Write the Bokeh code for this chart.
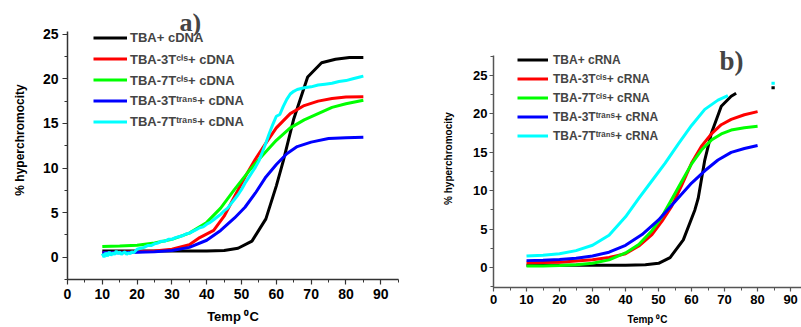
import math
from bokeh.plotting import figure
from bokeh.models import Legend, LegendItem, Label, Range1d, SingleIntervalTicker
from bokeh.layouts import row
from bokeh.embed import file_html
from bokeh.resources import INLINE

# ---------------- Panel a) : cDNA ----------------
a_black_T = [10, 15, 20, 25, 30, 35, 40, 45, 49, 53, 57, 60, 62, 65, 69, 73, 77, 81, 85]
a_black_v = [0.7, 0.7, 0.7, 0.7, 0.7, 0.7, 0.7, 0.75, 1.0, 1.8, 4.3, 8.0, 10.8, 15.5, 20.2, 21.8, 22.2, 22.4, 22.4]

a_red_T = [10, 15, 20, 25, 30, 35, 38, 42, 45, 48, 51, 54, 57, 60, 64, 68, 72, 76, 80, 85]
a_red_v = [0.5, 0.55, 0.6, 0.7, 0.9, 1.4, 2.2, 3.0, 4.6, 6.8, 9.0, 11.0, 12.8, 14.5, 16.1, 17.0, 17.5, 17.8, 17.95, 18.0]

a_green_T = [10, 15, 20, 25, 30, 35, 40, 44, 48, 52, 56, 60, 64, 68, 72, 76, 80, 85]
a_green_v = [1.2, 1.25, 1.35, 1.6, 2.0, 2.7, 3.9, 5.5, 7.6, 9.6, 11.4, 13.1, 14.5, 15.4, 16.1, 16.8, 17.2, 17.6]

a_blue_T = [10, 15, 20, 25, 30, 35, 40, 44, 48, 51, 54, 57, 60, 63, 66, 70, 75, 80, 85]
a_blue_v = [0.5, 0.5, 0.55, 0.6, 0.75, 1.1, 1.9, 3.0, 4.4, 5.6, 7.2, 9.0, 10.4, 11.6, 12.4, 12.9, 13.3, 13.4, 13.45]

a_cyan_T = [10, 10.5, 11, 11.5, 12, 12.5, 13, 13.5, 14, 14.5, 15, 15.5, 16, 16.5, 17, 17.5, 18, 18.5, 19,
            20, 21, 22, 23, 24, 25, 26, 27, 28, 29, 30, 31, 32, 33, 34, 35, 36, 37, 38, 39, 40,
            41, 42, 43, 44, 45, 46, 47, 48, 49, 50, 51, 52, 53, 54, 55, 56, 57, 58, 59, 60,
            61, 62, 63, 64, 65, 66, 68, 70, 72, 74, 76, 78, 80, 82, 84, 85]
a_cyan_v = [0.4, 0.0, 0.5, 0.1, 0.6, 0.2, 0.5, 0.3, 0.7, 0.4, 0.6, 0.3, 0.5, 0.6, 0.3, 0.5, 0.4, 0.6, 0.5,
            0.9, 1.0, 1.1, 1.3, 1.3, 1.5, 1.6, 1.8, 1.8, 2.0, 2.0, 2.2, 2.3, 2.4, 2.6, 2.7, 2.9, 3.1, 3.3, 3.4, 3.7,
            3.9, 4.2, 4.5, 4.8, 5.2, 5.5, 6.0, 6.5, 7.0, 7.6, 8.3, 8.9, 9.5, 10.1, 10.8, 11.8, 12.8, 13.9, 14.9, 15.8,
            16.0, 16.9, 17.7, 18.3, 18.6, 18.8, 19.0, 19.1, 19.3, 19.4, 19.5, 19.7, 19.8, 20.0, 20.2, 20.3]

a_labels = ["TBA+ cDNA", "TBA-3T\u1d9c\u2071\u02e2+ cDNA", "TBA-7T\u1d9c\u2071\u02e2+ cDNA",
            "TBA-3T\u1d57\u02b3\u1d43\u207f\u02e2+ cDNA", "TBA-7T\u1d57\u02b3\u1d43\u207f\u02e2+ cDNA"]

# ---------------- Panel b) : cRNA ----------------
b_black_T = [10, 20, 30, 40, 46, 50, 53.5, 57.5, 61, 62, 64, 66, 69, 72, 73.5]
b_black_v = [0.3, 0.3, 0.3, 0.3, 0.35, 0.55, 1.3, 3.6, 7.5, 9.0, 14.0, 17.5, 21.0, 22.3, 22.7]
b_black_tail_T = [84.2, 85.2]
b_black_tail_v = [23.4, 23.4]

b_red_T = [10, 15, 20, 25, 30, 35, 40, 44, 48, 51, 54, 57, 60, 63, 66, 69, 72, 76, 80]
b_red_v = [0.6, 0.65, 0.7, 0.85, 1.0, 1.3, 1.8, 2.8, 4.3, 6.0, 8.0, 10.7, 13.6, 15.8, 17.4, 18.6, 19.3, 19.9, 20.3]

b_green_T = [10, 15, 20, 25, 30, 35, 40, 44, 48, 51, 54, 57, 60, 63, 66, 69, 72, 76, 80]
b_green_v = [0.2, 0.2, 0.25, 0.35, 0.55, 1.0, 1.9, 3.0, 4.8, 6.6, 8.9, 11.2, 13.5, 15.3, 16.6, 17.4, 17.9, 18.2, 18.4]

b_blue_T = [10, 15, 20, 25, 30, 35, 40, 45, 50, 55, 60, 64, 68, 72, 76, 80]
b_blue_v = [0.9, 0.95, 1.05, 1.2, 1.5, 2.0, 2.9, 4.3, 6.2, 8.6, 11.0, 12.6, 14.0, 15.0, 15.5, 15.9]

b_cyan_T = [10, 15, 20, 25, 30, 35, 40, 44, 48, 52, 56, 60, 64, 68, 71]
b_cyan_v = [1.5, 1.6, 1.8, 2.2, 2.9, 4.2, 6.6, 9.0, 11.3, 13.6, 16.1, 18.5, 20.6, 21.8, 22.4]
b_cyan_tail_T = [84.2, 85.2]
b_cyan_tail_v = [24.0, 24.0]

b_labels = ["TBA+ cRNA", "TBA-3T\u1d9c\u2071\u02e2+ cRNA", "TBA-7T\u1d9c\u2071\u02e2+ cRNA",
            "TBA-3T\u1d57\u02b3\u1d43\u207f\u02e2+ cRNA", "TBA-7T\u1d57\u02b3\u1d43\u207f\u02e2+ cRNA"]

colors = ["#000000", "#ff0000", "#00ff00", "#0000ff", "#00ffff"]

x_ticks_interval = 10
y_ticks_interval = 5
y_axis_title = "% hyperchromocity"
x_axis_title = "Temp \u2070C"

FONT = "Liberation Sans"


def style_axes(p, tick_size, tick_out, y_standoff, x_standoff, axis_color, ybounds):
    p.xaxis.ticker = SingleIntervalTicker(interval=x_ticks_interval, num_minor_ticks=2)
    p.yaxis.ticker = SingleIntervalTicker(interval=y_ticks_interval, num_minor_ticks=2)
    p.yaxis.bounds = ybounds
    for ax in (p.xaxis, p.yaxis):
        ax.axis_line_color = axis_color
        ax.axis_line_width = 1.5
        ax.major_tick_line_color = axis_color
        ax.minor_tick_line_color = axis_color
        ax.major_tick_line_width = 1.2
        ax.major_tick_out = tick_out
        ax.major_tick_in = 0
        ax.minor_tick_out = 3
        ax.minor_tick_in = 0
        ax.major_label_text_font = FONT
        ax.major_label_text_font_style = "bold"
        ax.major_label_text_font_size = tick_size
        ax.major_label_text_color = "#000000"
        ax.axis_label_text_font = FONT
        ax.axis_label_text_font_style = "bold"
        ax.axis_label_text_color = "#000000"
    p.yaxis.major_label_standoff = y_standoff
    p.xaxis.major_label_standoff = x_standoff
    p.xgrid.visible = False
    p.ygrid.visible = False
    p.outline_line_color = None
    p.frame_align = False


def add_lines(p, series, labels, lw):
    items = []
    for (T, v), c, lab in zip(series, colors, labels):
        r = p.line(T, v, line_color=c, line_width=lw)
        items.append(LegendItem(label=lab, renderers=[r]))
    return items


# ---- figure a ----
pa = figure(width=400, height=327, title=None, output_backend="svg", toolbar_location=None,
            x_range=Range1d(0, 95.1), y_range=Range1d(-2.5, 28.78),
            min_border_left=67, min_border_right=2, min_border_top=0, min_border_bottom=48)
style_axes(pa, "14px", 5, 4, 4, "#333333", (-2.5, 25.3))
pa.xaxis.axis_label = x_axis_title
pa.xaxis.axis_label_text_font_size = "13px"
pa.xaxis.axis_label_standoff = 7
pa.yaxis.axis_label = y_axis_title
pa.yaxis.axis_label_text_font_size = "12px"
pa.yaxis.axis_label_standoff = 13
items_a = add_lines(pa, [(a_black_T, a_black_v), (a_red_T, a_red_v), (a_green_T, a_green_v),
                         (a_blue_T, a_blue_v), (a_cyan_T, a_cyan_v)], a_labels, 3)
leg_a = Legend(items=items_a, location=(26, 147), background_fill_alpha=0, border_line_color=None,
               padding=0, margin=0, spacing=0, label_height=21, glyph_height=21, glyph_width=34,
               label_standoff=3, label_text_font=FONT, label_text_font_style="bold",
               label_text_font_size="13px")
pa.add_layout(leg_a)
pa.add_layout(Label(x=35.3, y=26.3, text="a)", text_font="Liberation Serif", text_font_style="bold",
                    text_font_size="26px", text_align="center", text_baseline="middle",
                    background_fill_color="white", padding=6))

# ---- figure b ----
pb = figure(width=401, height=327, title=None, output_backend="svg", toolbar_location=None,
            x_range=Range1d(0, 93.3), y_range=Range1d(-2.6, 31.0),
            min_border_left=93, min_border_right=0, min_border_top=29, min_border_bottom=40)
style_axes(pb, "13px", 4, 2, 3, "#555555", (-2.6, 27.6))
pb.xaxis.axis_label = x_axis_title
pb.xaxis.axis_label_text_font_size = "10px"
pb.xaxis.axis_label_standoff = 7
pb.yaxis.axis_label = y_axis_title
pb.yaxis.axis_label_text_font_size = "10px"
pb.yaxis.axis_label_standoff = 16
items_b = add_lines(pb, [(b_black_T, b_black_v), (b_red_T, b_red_v), (b_green_T, b_green_v),
                         (b_blue_T, b_blue_v), (b_cyan_T, b_cyan_v)], b_labels, 3)
pb.line(b_black_tail_T, b_black_tail_v, line_color=colors[0], line_width=3)
pb.line(b_cyan_tail_T, b_cyan_tail_v, line_color=colors[4], line_width=3)
leg_b = Legend(items=items_b, location=(24, 142), background_fill_alpha=0, border_line_color=None,
               padding=0, margin=0, spacing=0, label_height=19, glyph_height=19, glyph_width=31,
               label_standoff=5, label_text_font=FONT, label_text_font_style="bold",
               label_text_font_size="12px")
pb.add_layout(leg_b)
pb.add_layout(Label(x=72.1, y=26.9, text="b)", text_font="Liberation Serif", text_font_style="bold",
                    text_font_size="27px", text_align="center", text_baseline="middle"))

layout = row(pa, pb)
open("out.html", "w").write(file_html(layout, INLINE))
